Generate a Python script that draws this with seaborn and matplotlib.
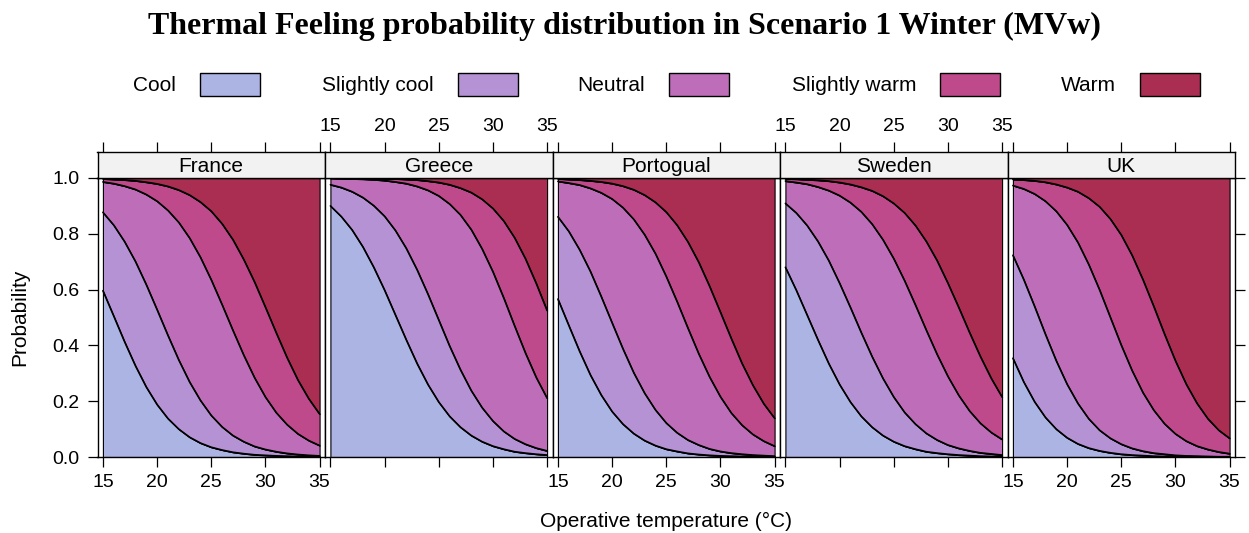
import matplotlib
matplotlib.use("Agg")
import matplotlib.pyplot as plt
from matplotlib.patches import Rectangle
import pandas as pd
import seaborn as sns

# ---------------------------------------------------------------------------
# Data: cumulative probability P(feeling <= level) against operative temperature
# (rows: Cool, Slightly cool, Neutral, Slightly warm; Warm fills up to 1)
# ---------------------------------------------------------------------------
temperature = list(range(15, 36))
countries = ["France", "Greece", "Portogual", "Sweden", "UK"]
feelings = ["Cool", "Slightly cool", "Neutral", "Slightly warm", "Warm"]
feeling_colors = ["#ACB4E4", "#B492D4", "#BE6EB8", "#BE4A8C", "#AA2E52"]
x_ticks = [15, 20, 25, 30, 35]
y_ticks = [0.0, 0.2, 0.4, 0.6, 0.8, 1.0]

france_cum = [
    [0.596, 0.505, 0.413, 0.327, 0.251, 0.188, 0.138, 0.100, 0.071, 0.050, 0.035,
     0.025, 0.017, 0.012, 0.008, 0.006, 0.004, 0.003, 0.002, 0.001, 0.001],
    [0.877, 0.831, 0.772, 0.701, 0.618, 0.528, 0.436, 0.348, 0.269, 0.203, 0.149,
     0.108, 0.077, 0.055, 0.038, 0.027, 0.019, 0.013, 0.009, 0.006, 0.004],
    [0.986, 0.980, 0.971, 0.959, 0.941, 0.917, 0.884, 0.841, 0.785, 0.716, 0.635,
     0.546, 0.454, 0.365, 0.284, 0.215, 0.159, 0.116, 0.083, 0.059, 0.041],
    [0.997, 0.995, 0.993, 0.990, 0.985, 0.979, 0.970, 0.957, 0.939, 0.914, 0.881,
     0.836, 0.779, 0.708, 0.627, 0.537, 0.445, 0.356, 0.276, 0.209, 0.154],
]
greece_cum = [
    [0.900, 0.862, 0.814, 0.753, 0.680, 0.598, 0.509, 0.420, 0.335, 0.260, 0.197,
     0.146, 0.107, 0.077, 0.055, 0.039, 0.028, 0.019, 0.014, 0.010, 0.007],
    [0.976, 0.966, 0.951, 0.930, 0.901, 0.863, 0.812, 0.748, 0.671, 0.584, 0.491,
     0.398, 0.313, 0.238, 0.177, 0.129, 0.092, 0.065, 0.046, 0.032, 0.022],
    [0.999, 0.998, 0.997, 0.996, 0.994, 0.991, 0.986, 0.980, 0.970, 0.956, 0.936,
     0.907, 0.868, 0.815, 0.746, 0.664, 0.570, 0.470, 0.373, 0.285, 0.211],
    [1.000, 1.000, 0.999, 0.999, 0.998, 0.998, 0.997, 0.995, 0.993, 0.989, 0.984,
     0.976, 0.964, 0.948, 0.924, 0.891, 0.846, 0.786, 0.711, 0.622, 0.525],
]
portogual_cum = [
    [0.566, 0.472, 0.379, 0.294, 0.222, 0.163, 0.118, 0.084, 0.059, 0.041, 0.028,
     0.020, 0.013, 0.009, 0.006, 0.004, 0.003, 0.002, 0.001, 0.001, 0.001],
    [0.861, 0.809, 0.743, 0.665, 0.575, 0.481, 0.388, 0.302, 0.229, 0.169, 0.122,
     0.087, 0.061, 0.043, 0.029, 0.020, 0.014, 0.010, 0.007, 0.005, 0.003],
    [0.988, 0.982, 0.975, 0.963, 0.947, 0.925, 0.894, 0.852, 0.797, 0.729, 0.647,
     0.557, 0.462, 0.370, 0.287, 0.216, 0.158, 0.114, 0.081, 0.057, 0.039],
    [0.997, 0.995, 0.993, 0.990, 0.986, 0.980, 0.971, 0.958, 0.939, 0.913, 0.878,
     0.831, 0.771, 0.698, 0.612, 0.519, 0.425, 0.335, 0.257, 0.191, 0.139],
]
sweden_cum = [
    [0.680, 0.598, 0.509, 0.420, 0.335, 0.260, 0.197, 0.146, 0.107, 0.077, 0.055,
     0.039, 0.028, 0.019, 0.014, 0.010, 0.007, 0.005, 0.003, 0.002, 0.002],
    [0.909, 0.875, 0.830, 0.773, 0.704, 0.623, 0.536, 0.446, 0.360, 0.282, 0.215,
     0.160, 0.118, 0.085, 0.061, 0.043, 0.031, 0.022, 0.015, 0.011, 0.007],
    [0.989, 0.984, 0.978, 0.968, 0.955, 0.937, 0.912, 0.879, 0.835, 0.779, 0.711,
     0.632, 0.545, 0.455, 0.368, 0.289, 0.221, 0.165, 0.121, 0.088, 0.063],
    [0.997, 0.996, 0.994, 0.992, 0.989, 0.984, 0.977, 0.967, 0.954, 0.935, 0.909,
     0.875, 0.830, 0.773, 0.704, 0.623, 0.536, 0.446, 0.360, 0.282, 0.215],
]
uk_cum = [
    [0.354, 0.269, 0.198, 0.142, 0.100, 0.069, 0.047, 0.032, 0.022, 0.015, 0.010,
     0.007, 0.005, 0.003, 0.002, 0.001, 0.001, 0.001, 0.000, 0.000, 0.000],
    [0.723, 0.636, 0.540, 0.440, 0.345, 0.261, 0.192, 0.137, 0.096, 0.067, 0.046,
     0.031, 0.021, 0.014, 0.010, 0.006, 0.004, 0.003, 0.002, 0.001, 0.001],
    [0.973, 0.961, 0.943, 0.917, 0.881, 0.832, 0.769, 0.690, 0.599, 0.500, 0.401,
     0.310, 0.231, 0.168, 0.119, 0.083, 0.057, 0.039, 0.027, 0.018, 0.012],
    [0.995, 0.993, 0.990, 0.985, 0.977, 0.966, 0.951, 0.928, 0.897, 0.853, 0.796,
     0.723, 0.636, 0.540, 0.440, 0.345, 0.261, 0.192, 0.137, 0.096, 0.067],
]
cumulative = [france_cum, greece_cum, portogual_cum, sweden_cum, uk_cum]

# long table of the boundary curves
rows = []
for country, cum in zip(countries, cumulative):
    for k, boundary in enumerate(cum):
        for t, p in zip(temperature, boundary):
            rows.append({"country": country, "boundary": k, "temperature": t, "cum": p})
curves = pd.DataFrame(rows)

# ---------------------------------------------------------------------------
# Styling
# ---------------------------------------------------------------------------
sns.set_theme(style="white")
plt.rcParams["font.family"] = ["Liberation Sans", "DejaVu Sans"]
plt.rcParams["axes.linewidth"] = 1.0

W, H = 1249, 533
fig = plt.figure(figsize=(W / 100, H / 100), dpi=100)
fig.patch.set_facecolor("white")


def fx(px):
    return px / W


def fy(py):
    return 1 - py / H


panel_left = 97.5
panel_w = 227.5
panel_top, panel_bottom = 178, 457
strip_top = 152
tick_fs = 14
text_fs = 15
tick_len = 7

for i, (country, cum) in enumerate(zip(countries, cumulative)):
    left = panel_left + i * panel_w
    ax = fig.add_axes([fx(left), fy(panel_bottom), fx(panel_w),
                       (panel_bottom - panel_top) / H])
    ax.set_facecolor("white")

    # stacked bands between consecutive cumulative boundaries
    bounds = [[0.0] * len(temperature)] + cum + [[1.0] * len(temperature)]
    for k, color in enumerate(feeling_colors):
        ax.fill_between(temperature, bounds[k], bounds[k + 1],
                        facecolor=color, edgecolor="black", linewidth=0.8)

    sub = curves[curves["country"] == country]
    sns.lineplot(data=sub, x="temperature", y="cum", units="boundary",
                 estimator=None, color="black", linewidth=1.2, ax=ax,
                 legend=False)

    ax.set_xlim(14.5, 35.5)
    ax.set_ylim(0, 1)
    ax.set_xlabel("")
    ax.set_ylabel("")
    for s in ax.spines.values():
        s.set_color("black")
        s.set_linewidth(1.0)

    ax.set_xticks(x_ticks)
    ax.tick_params(axis="x", direction="out", length=tick_len, width=0.9,
                   colors="black", labelsize=tick_fs, pad=5, bottom=True)
    if i % 2 == 0:
        ax.set_xticklabels([str(t) for t in x_ticks])
    else:
        ax.set_xticklabels([])

    ax.set_yticks(y_ticks)
    if i == 0:
        ax.set_yticklabels([f"{v:.1f}" for v in y_ticks])
        ax.tick_params(axis="y", direction="out", length=tick_len, width=0.9,
                       colors="black", labelsize=tick_fs, pad=6, left=True)
    elif i == len(countries) - 1:
        ax.yaxis.tick_right()
        ax.set_yticklabels([])
        ax.tick_params(axis="y", direction="out", length=tick_len, width=0.9,
                       colors="black", right=True, left=False)
    else:
        ax.tick_params(axis="y", left=False, right=False, labelleft=False)

    # strip with the country name; the top axis sits on it
    sax = fig.add_axes([fx(left), fy(panel_top), fx(panel_w),
                        (panel_top - strip_top) / H])
    sax.set_facecolor("#F2F2F2")
    sax.set_xlim(14.5, 35.5)
    sax.set_ylim(0, 1)
    for s in sax.spines.values():
        s.set_color("black")
        s.set_linewidth(1.0)
    sax.set_yticks([])
    sax.xaxis.tick_top()
    sax.set_xticks(x_ticks)
    sax.tick_params(axis="x", direction="out", length=tick_len, width=0.9,
                    colors="black", labelsize=tick_fs, pad=5, top=True,
                    bottom=False)
    if i % 2 == 1:
        sax.set_xticklabels([str(t) for t in x_ticks])
    else:
        sax.set_xticklabels([])
    sax.text(0.5, 0.45, country, transform=sax.transAxes, ha="center",
             va="center", fontsize=text_fs, color="black")

# axis titles
fig.text(fx(20), fy(317), "Probability", rotation=90, ha="center",
         va="center", fontsize=text_fs, color="black")
fig.text(fx(666), fy(521), "Operative temperature (°C)", ha="center",
         va="center", fontsize=text_fs, color="black")

# key across the top
box_lefts = [200, 458, 669, 940, 1140]
for label, color, bl in zip(feelings, feeling_colors, box_lefts):
    fig.patches.append(Rectangle((fx(bl), fy(96)), fx(60), 23 / H,
                                 transform=fig.transFigure, facecolor=color,
                                 edgecolor="black", linewidth=1.0))
    fig.text(fx(bl - 24), fy(85), label, ha="right", va="center",
             fontsize=text_fs, color="black")

fig.text(0.5, fy(26),
         "Thermal Feeling probability distribution in Scenario 1 Winter (MVw)",
         ha="center", va="center", fontsize=23, fontweight="bold",
         family=["Liberation Serif", "DejaVu Serif"], color="black")

fig.savefig("out.png", dpi=100, facecolor="white")
